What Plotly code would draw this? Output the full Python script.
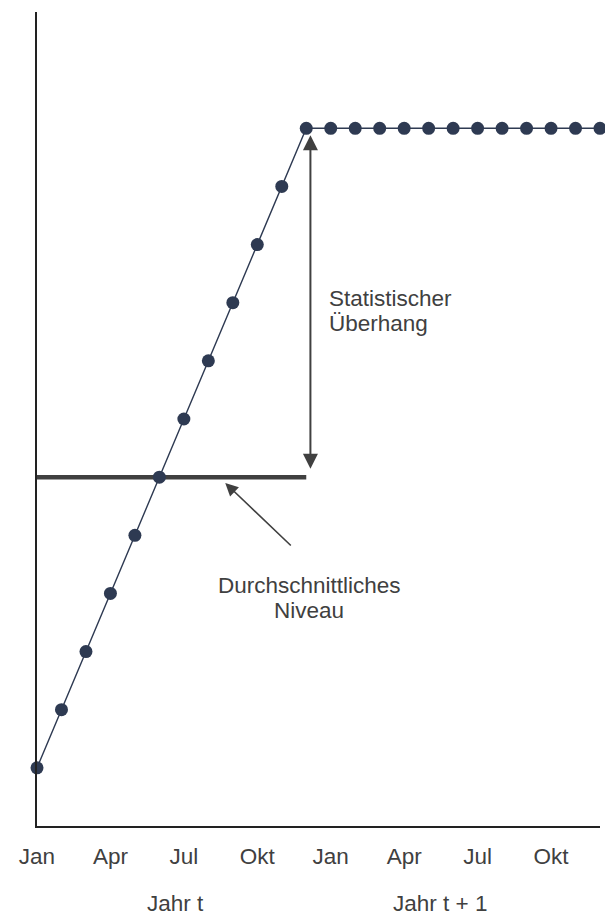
import plotly.graph_objects as go

# monthly index 0..23 (Jan year t .. Dec year t+1)
months = list(range(24))
tick_pos = [0, 3, 6, 9, 12, 15, 18, 21]
tick_text = ["Jan", "Apr", "Jul", "Okt", "Jan", "Apr", "Jul", "Okt"]
level = [0, 1, 2, 3, 4, 5, 6, 7, 8, 9, 10, 11,
         11, 11, 11, 11, 11, 11, 11, 11, 11, 11, 11, 11]
avg_x = [0, 11]
avg_y = [5, 5]

txt = "#404040"
navy = "#2E3A52"
fnt = dict(family="Liberation Sans, Arial, sans-serif", size=22.5, color=txt)

fig = go.Figure()
fig.add_trace(go.Scatter(x=avg_x, y=avg_y, mode="lines",
                         line=dict(color=txt, width=4.5), hoverinfo="skip"))
fig.add_trace(go.Scatter(x=months, y=level, mode="lines+markers",
                         line=dict(color=navy, width=1.4),
                         marker=dict(color=navy, size=13), cliponaxis=False))

# statistischer Ueberhang: double arrow
fig.add_annotation(x=11.17, y=10.88, ax=11.17, ay=5.12, xref="x", yref="y",
                   axref="x", ayref="y", text="", showarrow=True,
                   arrowhead=2, arrowside="end+start", arrowsize=1.5,
                   arrowwidth=2, arrowcolor=txt)
fig.add_annotation(x=11.86, y=8.08, xref="x", yref="y", text="Statistischer",
                   showarrow=False, xanchor="left", font=fnt)
fig.add_annotation(x=11.86, y=7.65, xref="x", yref="y", text="Überhang",
                   showarrow=False, xanchor="left", font=fnt)

# durchschnittliches Niveau
fig.add_annotation(x=7.69, y=4.90, ax=10.43, ay=3.80, xref="x", yref="y",
                   axref="x", ayref="y", text="", showarrow=True,
                   arrowhead=2, arrowsize=1.6, arrowwidth=1.6, arrowcolor=txt)
fig.add_annotation(x=11.12, y=3.13, xref="x", yref="y", text="Durchschnittliches",
                   showarrow=False, font=fnt)
fig.add_annotation(x=11.12, y=2.70, xref="x", yref="y", text="Niveau",
                   showarrow=False, font=fnt)

fig.add_annotation(x=5.64, y=-0.0946, xref="x", yref="paper", yanchor="middle",
                   text="Jahr t", showarrow=False, font=fnt)
fig.add_annotation(x=16.48, y=-0.0946, xref="x", yref="paper", yanchor="middle",
                   text="Jahr t + 1", showarrow=False, font=fnt)

fig.update_layout(
    width=605, height=917, showlegend=False,
    plot_bgcolor="white", paper_bgcolor="white",
    margin=dict(l=37, r=5, t=12, b=91),
    font=fnt,
)
fig.update_xaxes(range=[0, 23], tickvals=tick_pos, ticktext=tick_text,
                 showgrid=False, zeroline=False, showline=True,
                 linecolor="#222222", linewidth=1.5, ticks="", ticklabelstandoff=9)
fig.update_yaxes(range=[-1, 13], showticklabels=False, showgrid=False,
                 zeroline=False, showline=True, linecolor="#222222", linewidth=1.5)

fig.write_html("out.html", config={"displayModeBar": False},
               post_script="document.body.style.margin='0';")
